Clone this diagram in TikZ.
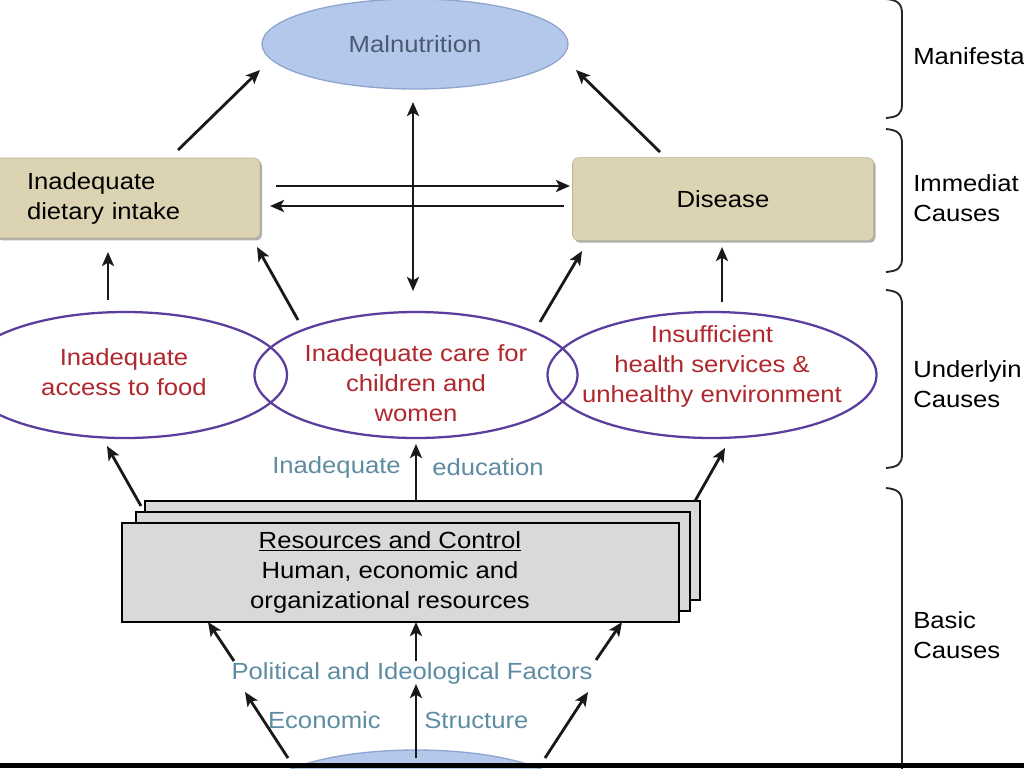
\documentclass[tikz,border=0pt]{standalone}
\usepackage{fontspec}
\setmainfont{Liberation Sans}[FakeStretch=1.1]
\usetikzlibrary{arrows.meta,shapes.geometric,shadows}
\definecolor{mblue}{HTML}{B4C8EC}
\definecolor{mblueline}{HTML}{8FA6CF}
\definecolor{mtext}{HTML}{4B5A72}
\definecolor{tan}{HTML}{DCD3B2}
\definecolor{purp}{HTML}{5A3D9C}
\definecolor{dred}{HTML}{B0282D}
\definecolor{steel}{HTML}{5E8CA2}
\definecolor{boxgray}{HTML}{D9D9D9}
\begin{document}
\begin{tikzpicture}[x=0.75pt,y=-0.75pt,
  every node/.style={font=\fontsize{17.5}{22.5}\selectfont, inner sep=0pt},
  tip/.tip={Stealth[length=10.5pt,width=9pt,inset=2.5pt]},
  arr/.style={-tip, line width=2.1pt, black!90},
  darr/.style={tip-tip, line width=2.1pt, black!90},
  blob/.style={ellipse, fill=mblue, draw=mblueline, line width=1pt, minimum width=229.5pt, minimum height=67.5pt},
  tanbox/.style={rectangle, rounded corners=4pt, fill=tan, draw=tan!85!black, line width=0.4pt,
     drop shadow={shadow xshift=1.5pt, shadow yshift=-1.8pt, fill=black!45, opacity=0.7}},
  oval/.style={ellipse, draw=purp, line width=1.7pt, minimum height=94.5pt},
  ovaltext/.style={text=dred, align=center},
  bluetext/.style={text=steel},
  stackbox/.style={rectangle, draw=black, line width=1.6pt, fill=boxgray},
  brace/.style={line width=1.4pt, black!85},
  side/.style={anchor=west, align=left, text=black}
]
\useasboundingbox (0,0) rectangle (1024,768);
\clip (0,0) rectangle (1024,768);
\fill[white] (0,0) rectangle (1024,768);

% Manifestation
\node[blob, text=mtext] (mal) at (415,44) {Malnutrition};

% Immediate causes
\node[tanbox, minimum width=198.75pt, minimum height=60pt, text width=150.75pt, align=left, inner xsep=24pt] (diet) at (127.5,198) {Inadequate\\dietary intake};
\node[tanbox, minimum width=225.75pt, minimum height=62pt] (dis) at (723,199) {Disease};

% Underlying causes
\node[oval, minimum width=243pt] (acc) at (125,375) {};
\node[oval, minimum width=242.25pt] (care) at (416,375) {};
\node[oval, minimum width=246.75pt] (health) at (712,375) {};
\node[ovaltext] (acct) at (124,372) {Inadequate\\access to food};
\node[ovaltext] (caret) at (416,383) {Inadequate care for\\children and\\women};
\node[ovaltext] (healtht) at (712,366) {Insufficient\\health services \&\\unhealthy environment};

% Inadequate education
\node[bluetext, anchor=east] (ined) at (401,467) {Inadequate};
\node[bluetext, anchor=west] (edu) at (432,467) {education};

% Resources stack
\node[stackbox, minimum width=416.25pt, minimum height=74.25pt] (res3) at (422.5,550.5) {};
\node[stackbox, minimum width=415.5pt, minimum height=74.25pt] (res2) at (413,561.5) {};
\node[stackbox, minimum width=417.75pt, minimum height=74.25pt] (res) at (400.5,572.5) {};
\node[align=center] (rest) at (390,572) {\underline{Resources and Control}\\Human, economic and\\organizational resources};

% Factors
\node[bluetext] (pol) at (412,673) {Political and Ideological Factors};
\node[bluetext, anchor=east] (eco) at (381,720) {Economic};
\node[bluetext, anchor=west] (str) at (424,720) {Structure};

% root blob (partly visible)
\node[blob] (root) at (416,795) {};

% coordinates for arrow ends
\coordinate (a1s) at (178,150); \coordinate (a1e) at (260,70);
\coordinate (a2s) at (660,152); \coordinate (a2e) at (576,70);
\coordinate (vt) at (413,102); \coordinate (vb) at (413,291);
\coordinate (h1s) at (276,186); \coordinate (h1e) at (570,186);
\coordinate (h2s) at (564,206); \coordinate (h2e) at (270,206);
\coordinate (b1s) at (108,300); \coordinate (b1e) at (108,252);
\coordinate (b2s) at (298,320); \coordinate (b2e) at (257,247);
\coordinate (b3s) at (540,322); \coordinate (b3e) at (582,251);
\coordinate (b4s) at (722,302); \coordinate (b4e) at (722,247);
\coordinate (c1s) at (141,506); \coordinate (c1e) at (107,446);
\coordinate (c2s) at (416,500); \coordinate (c2e) at (416,444);
\coordinate (c3s) at (695,501); \coordinate (c3e) at (725,448);
\coordinate (d1s) at (234,661); \coordinate (d1e) at (208,622);
\coordinate (d2s) at (416,661); \coordinate (d2e) at (416,622);
\coordinate (d3s) at (596,660); \coordinate (d3e) at (622,622);
\coordinate (e1s) at (288,758); \coordinate (e1e) at (245,692);
\coordinate (e2s) at (416,758); \coordinate (e2e) at (416,684);
\coordinate (e3s) at (545,758); \coordinate (e3e) at (588,692);

\draw[arr] (a1s) -- (a1e);
\draw[arr] (a2s) -- (a2e);
\draw[darr] (vt) -- (vb);
\draw[arr] (h1s) -- (h1e);
\draw[arr] (h2s) -- (h2e);
\draw[arr] (b1s) -- (b1e);
\draw[arr] (b2s) -- (b2e);
\draw[arr] (b3s) -- (b3e);
\draw[arr] (b4s) -- (b4e);
\draw[arr] (c1s) -- (c1e);
\draw[arr] (c2s) -- (c2e);
\draw[arr] (c3s) -- (c3e);
\draw[arr] (d1s) -- (d1e);
\draw[arr] (d2s) -- (d2e);
\draw[arr] (d3s) -- (d3e);
\draw[arr] (e1s) -- (e1e);
\draw[arr] (e2s) -- (e2e);
\draw[arr] (e3s) -- (e3e);

% brackets
\draw[brace] (886,-1) .. controls (898,0) and (902,4) .. (902,14) -- (902,104) .. controls (902,114) and (898,117) .. (886,118);
\draw[brace] (886,129) .. controls (898,130) and (902,134) .. (902,144) -- (902,258) .. controls (902,268) and (898,271) .. (886,272);
\draw[brace] (886,290) .. controls (898,291) and (902,295) .. (902,305) -- (902,454) .. controls (902,464) and (898,467) .. (886,468);
\draw[brace] (886,488) .. controls (898,489) and (902,493) .. (902,503) -- (902,770);

\node[side] (l1) at (913,56) {Manifesta};
\node[side] (l2) at (913,198) {Immediat\\Causes};
\node[side] (l3) at (913,384) {Underlyin\\Causes};
\node[side] (l4) at (913,635) {Basic\\Causes};

% bottom black bar
\fill[black] (0,763) rectangle (1024,768);
\end{tikzpicture}
\end{document}
